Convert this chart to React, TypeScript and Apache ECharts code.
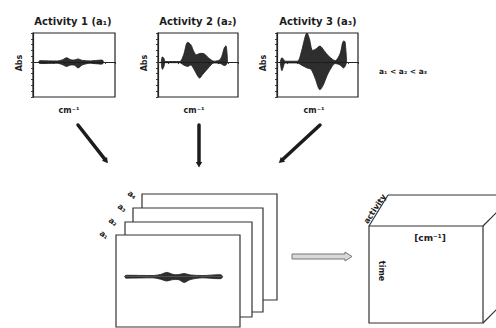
import React, { useEffect, useRef } from "react";
import * as echarts from "echarts";

// Envelope of each activity spectrum: [position along cm⁻¹ (0..1), absorbance]
const activity1Upper = [[0.07, 0], [0.08, 0.05], [0.3, 0.04], [0.36, 0.08], [0.41, 0.15], [0.46, 0.08], [0.5, 0.07], [0.55, 0.11], [0.6, 0.06], [0.7, 0.04], [0.83, 0.07], [0.85, 0.06], [0.86, 0]];
const activity1Lower = [[0.07, 0], [0.08, -0.05], [0.3, -0.04], [0.36, -0.09], [0.41, -0.15], [0.46, -0.1], [0.5, -0.1], [0.55, -0.2], [0.6, -0.1], [0.7, -0.04], [0.83, -0.07], [0.85, -0.06], [0.86, 0]];

const activity2Upper = [[0.04, 0], [0.055, 0.18], [0.075, 0.12], [0.09, 0.02], [0.27, 0.02], [0.32, 0.25], [0.37, 0.68], [0.41, 0.6], [0.45, 0.35], [0.48, 0.25], [0.53, 0.3], [0.58, 0.28], [0.63, 0.15], [0.7, 0.03], [0.78, 0.1], [0.83, 0.5], [0.85, 0.56], [0.87, 0]];
const activity2Lower = [[0.04, 0], [0.055, -0.25], [0.075, -0.15], [0.09, -0.02], [0.27, -0.02], [0.32, -0.1], [0.37, -0.15], [0.41, -0.1], [0.45, -0.25], [0.49, -0.45], [0.52, -0.55], [0.56, -0.42], [0.63, -0.2], [0.7, -0.03], [0.78, -0.05], [0.83, -0.12], [0.85, -0.1], [0.87, 0]];

const activity3Upper = [[0.04, 0], [0.06, 0.15], [0.08, 0.1], [0.1, 0.03], [0.25, 0.03], [0.3, 0.35], [0.35, 0.9], [0.37, 1.0], [0.4, 0.8], [0.44, 0.4], [0.48, 0.45], [0.53, 0.55], [0.58, 0.4], [0.64, 0.2], [0.72, 0.05], [0.78, 0.3], [0.82, 0.72], [0.84, 0.7], [0.86, 0]];
const activity3Lower = [[0.04, 0], [0.06, -0.3], [0.08, -0.15], [0.1, -0.03], [0.25, -0.03], [0.3, -0.1], [0.37, -0.2], [0.42, -0.25], [0.47, -0.55], [0.53, -0.95], [0.57, -0.8], [0.62, -0.45], [0.68, -0.15], [0.72, -0.05], [0.78, -0.1], [0.82, -0.2], [0.84, -0.15], [0.86, 0]];

const activityTitles = ["Activity 1 (a\u2081)", "Activity 2 (a\u2082)", "Activity 3 (a\u2083)"];
const stackLabels = ["a\u2081", "a\u2082", "a\u2083", "a\u2084"];
const ink = "#1c1c1c";
const family = "'DejaVu Sans', 'Liberation Sans', sans-serif";
const fontTitle = `bold 10px ${family}`;
const fontMid = `bold 8px ${family}`;
const fontSm = `bold 7.5px ${family}`;

function textEl(text: string, x: number, y: number, f: string, rotation = 0) {
  return {
    type: "text",
    x,
    y,
    rotation,
    z: 10,
    style: { text, fill: ink, font: f, textAlign: "center", verticalAlign: "middle" },
  };
}

function arrowEls(x1: number, y1: number, x2: number, y2: number) {
  const dx = x2 - x1;
  const dy = y2 - y1;
  const len = Math.sqrt(dx * dx + dy * dy);
  const ux = dx / len;
  const uy = dy / len;
  const px = -uy;
  const py = ux;
  const bx = x2 - ux * 4;
  const by = y2 - uy * 4;
  return [
    {
      type: "line",
      z: 10,
      shape: { x1, y1, x2: bx, y2: by },
      style: { stroke: ink, lineWidth: 3.5, lineCap: "round" },
    },
    {
      type: "polygon",
      z: 10,
      shape: { points: [[x2 + ux * 1.5, y2 + uy * 1.5], [bx + px * 3.2, by + py * 3.2], [bx - px * 3.2, by - py * 3.2]] },
      style: { fill: ink },
    },
  ];
}

function band(idx: number, up: number[][], lo: number[][]) {
  const common = {
    type: "line",
    xAxisIndex: idx,
    yAxisIndex: idx,
    showSymbol: false,
    smooth: 0.3,
    z: 5,
    lineStyle: { color: ink, width: 0.8 },
    areaStyle: { color: ink, opacity: 0.92, origin: 0 },
  };
  return [
    { ...common, data: up },
    { ...common, data: lo },
  ];
}

export default function App() {
  const ref = useRef<HTMLDivElement>(null);

  useEffect(() => {
    if (!ref.current) return;
    const chart = echarts.init(ref.current, null, { renderer: "svg" });

    const miniGrids = [
      { left: 33, top: 33, width: 82, height: 64 },
      { left: 158, top: 33, width: 80, height: 64 },
      { left: 277, top: 33, width: 81, height: 64 },
    ];
    const grids: any[] = miniGrids.map((g) => ({
      ...g,
      show: true,
      borderColor: "#222",
      borderWidth: 1.2,
      backgroundColor: "transparent",
      z: 4,
    }));
    grids.push({ left: 116, top: 235, width: 124, height: 92, show: false });

    const xAxes: any[] = miniGrids.map((_, i) => ({
      gridIndex: i,
      type: "value",
      min: 0,
      max: 1,
      interval: 0.125,
      axisLine: { show: true, lineStyle: { color: "#222", width: 1.2 } },
      axisTick: { show: true, length: 2, lineStyle: { color: "#444" } },
      axisLabel: { show: false },
      splitLine: { show: false },
    }));
    xAxes.push({ gridIndex: 3, type: "value", min: 0, max: 1, show: false });

    const yAxes: any[] = miniGrids.map((_, i) => ({
      gridIndex: i,
      type: "value",
      min: -1.2,
      max: 1,
      interval: 0.2,
      axisLine: { show: true, lineStyle: { color: "#222", width: 1.2 } },
      axisTick: { show: true, length: 2, lineStyle: { color: "#444" } },
      axisLabel: { show: false },
      splitLine: { show: false },
    }));
    yAxes.push({ gridIndex: 3, type: "value", min: -1.75, max: 1.45, show: false });

    const series = [
      ...band(0, activity1Upper, activity1Lower),
      ...band(1, activity2Upper, activity2Lower),
      ...band(2, activity3Upper, activity3Lower),
      ...band(3, activity1Upper, activity1Lower),
    ];

    // stacked activity frames, back to front
    const frames = [
      [142, 194, 135, 106],
      [133, 208, 130, 104],
      [125, 222, 127, 95],
      [116, 235, 124, 92],
    ];
    const labelPos = [
      [132, 195],
      [122, 208],
      [113, 222],
      [104, 235],
    ];

    const elements: any[] = [];
    // chart titles and axis names
    const centers = [73, 198, 318];
    const absX = [19, 144, 263];
    activityTitles.forEach((t, i) => {
      elements.push(textEl(t, centers[i], 21, fontTitle));
      elements.push(textEl("Abs", absX[i], 63, fontMid, Math.PI / 2));
      elements.push(textEl("cm\u207B\u00B9", centers[i] - 4, 110, fontMid));
    });
    elements.push(textEl("a\u2081 < a\u2082 < a\u2083", 403, 71, fontSm));

    elements.push(...arrowEls(78, 125, 107, 162));
    elements.push(...arrowEls(199, 125, 199, 166));
    elements.push(...arrowEls(320, 125, 280, 162));

    frames.forEach((f, i) => {
      elements.push({
        type: "rect",
        z: 1 + i,
        shape: { x: f[0], y: f[1], width: f[2], height: f[3] },
        style: { fill: "#fff", stroke: "#333", lineWidth: 1.2 },
      });
    });
    stackLabels
      .slice()
      .reverse()
      .forEach((t, i) => {
        elements.push(textEl(t, labelPos[i][0], labelPos[i][1], fontMid, -0.6));
      });

    // hollow transfer arrow
    elements.push({
      type: "polygon",
      z: 10,
      shape: { points: [[292, 254], [345, 254], [345, 252], [352, 256.5], [345, 261], [345, 259], [292, 259]] },
      style: { fill: "#d8d8d8", stroke: "#777", lineWidth: 1 },
    });

    // data cube
    const cubeLine = (x1: number, y1: number, x2: number, y2: number) => ({
      type: "line",
      z: 10,
      shape: { x1, y1, x2, y2 },
      style: { stroke: "#333", lineWidth: 1.2 },
    });
    elements.push({
      type: "rect",
      z: 10,
      shape: { x: 369, y: 226, width: 114, height: 97 },
      style: { fill: "none", stroke: "#333", lineWidth: 1.2 },
    });
    elements.push(cubeLine(369, 226, 388, 195));
    elements.push(cubeLine(388, 195, 500, 195));
    elements.push(cubeLine(483, 226, 497, 212));
    elements.push(cubeLine(483, 323, 497, 309));
    elements.push(textEl("activity", 375, 209, fontMid, 0.98));
    elements.push(textEl("[cm\u207B\u00B9]", 430, 238, `bold 9px ${family}`));
    elements.push(textEl("time", 381, 271, fontMid, -Math.PI / 2));

    chart.setOption({
      animation: false,
      backgroundColor: "#fff",
      grid: grids,
      xAxis: xAxes,
      yAxis: yAxes,
      series,
      graphic: { elements },
    });

    return () => chart.dispose();
  }, []);

  return <div ref={ref} style={{ position: "fixed", left: 0, top: 0, width: 496, height: 328 }} />;
}
